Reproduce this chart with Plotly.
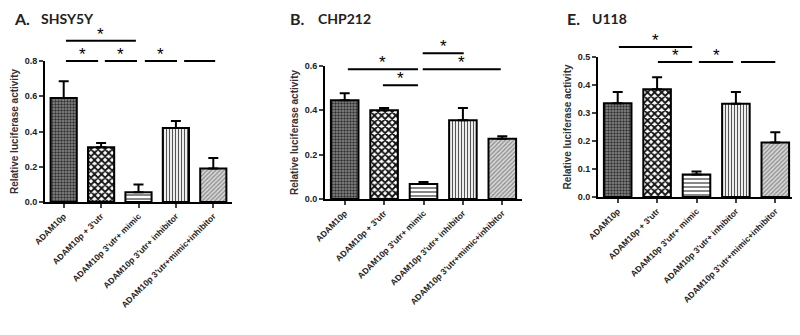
import plotly.graph_objects as go

categories = ["ADAM10p", "ADAM10p + 3'utr", "ADAM10p 3'utr+ mimic",
              "ADAM10p 3'utr+ inhibitor", "ADAM10p 3'utr+mimic+inhibitor"]

shsy5y_mean = [0.59, 0.31, 0.055, 0.42, 0.19]
shsy5y_err = [0.095, 0.025, 0.045, 0.04, 0.06]
chp212_mean = [0.446, 0.40, 0.068, 0.355, 0.272]
chp212_err = [0.031, 0.011, 0.009, 0.055, 0.011]
u118_mean = [0.335, 0.385, 0.08, 0.333, 0.195]
u118_err = [0.04, 0.043, 0.011, 0.042, 0.036]

# significance brackets: (x_start, x_end, y, star?) in category / value units
shsy5y_sig = [(0.06, 1.93, 0.915, True), (0.06, 0.92, 0.80, True), (1.1, 1.96, 0.80, True),
              (2.17, 3.03, 0.80, True), (3.22, 4.05, 0.80, False)]
chp212_sig = [(0.08, 1.86, 0.585, True), (0.97, 1.86, 0.513, True),
              (1.98, 3.02, 0.657, True), (1.98, 3.96, 0.585, True)]
u118_sig = [(0.03, 1.89, 0.536, True), (1.02, 1.89, 0.482, True),
            (2.06, 2.93, 0.482, True), (3.13, 4.0, 0.482, False)]

panels = [
    dict(title=("A.", "SHSY5Y"), mean=shsy5y_mean, err=shsy5y_err, sig=shsy5y_sig,
         ymax=0.8, dtick=0.2, xdom=(45, 232), ydom=(61, 202), tpos=(12, 39)),
    dict(title=("B.", "CHP212"), mean=chp212_mean, err=chp212_err, sig=chp212_sig,
         ymax=0.6, dtick=0.2, xdom=(325, 522), ydom=(66, 199), tpos=(288, 316)),
    dict(title=("E.", "U118"), mean=u118_mean, err=u118_err, sig=u118_sig,
         ymax=0.5, dtick=0.1, xdom=(598, 795), ydom=(57, 197), tpos=(565, 590)),
]

W, H = 800, 335
OFF = 8  # page body margin
FONT = "Liberation Sans, Arial, sans-serif"


def px2x(px):
    return (px - OFF) / W


def py2y(py):
    return 1 - (py - OFF) / H


pattern = dict(
    shape=[".", "x", "-", "|", "/"],
    fgcolor=["#333333", "#111111", "#555555", "#555555", "#8a8a8a"],
    bgcolor=["#8c8c8c", "#ffffff", "#ffffff", "#ffffff", "#d8d8d8"],
    size=[3, 5, 4, 3, 3],
    solidity=[0.5, 0.6, 0.35, 0.4, 0.4],
    fillmode="replace",
)

fig = go.Figure()
annotations = []
shapes = []
for i, p in enumerate(panels):
    n = i + 1
    xa = "x" if n == 1 else f"x{n}"
    ya = "y" if n == 1 else f"y{n}"
    fig.add_trace(go.Bar(
        x=categories, y=p["mean"], xaxis=xa, yaxis=ya, width=0.7,
        marker=dict(color="white", line=dict(color="black", width=2), pattern=pattern),
        error_y=dict(type="data", array=p["err"], arrayminus=[0] * 5, symmetric=False,
                     color="black", thickness=2, width=5),
        showlegend=False,
    ))
    xd = [px2x(p["xdom"][0]), px2x(p["xdom"][1])]
    yd = [py2y(p["ydom"][1]), py2y(p["ydom"][0])]
    fig.update_layout(**{
        ("xaxis" if n == 1 else f"xaxis{n}"): dict(
            domain=xd, anchor=ya, range=[-0.5, 4.5], tickangle=-45, automargin=False,
            showline=True, linecolor="black", linewidth=2, ticks="outside",
            ticklen=4, tickwidth=1.5, tickcolor="#444",
            tickfont=dict(family=FONT, size=8.5, color="#222", weight="bold"),
            showgrid=False, zeroline=False),
        ("yaxis" if n == 1 else f"yaxis{n}"): dict(
            domain=yd, anchor=xa, range=[0, p["ymax"]], dtick=p["dtick"], tickformat=".1f",
            automargin=False,
            showline=True, linecolor="black", linewidth=2, ticks="outside",
            ticklen=4, tickwidth=1.5, tickcolor="#444",
            tickfont=dict(family=FONT, size=9, color="#222", weight="bold"),
            title=dict(text="Relative luciferase activity", standoff=4,
                       font=dict(family=FONT, size=10, color="#333", weight="bold")),
            showgrid=False, zeroline=False),
    })
    # titles
    annotations.append(dict(xref="paper", yref="paper", x=px2x(p["tpos"][0]), y=py2y(18.5),
                            xanchor="left", yanchor="middle", showarrow=False, text="<b>" + p["title"][0] + "</b>",
                            font=dict(family="Lato, Open Sans, sans-serif", size=16, color="#222")))
    annotations.append(dict(xref="paper", yref="paper", x=px2x(p["tpos"][1]), y=py2y(18.5),
                            xanchor="left", yanchor="middle", showarrow=False, text="<b>" + p["title"][1] + "</b>",
                            font=dict(family="Lato, Open Sans, sans-serif", size=14, color="#222")))
    for (x0, x1, yv, star) in p["sig"]:
        shapes.append(dict(type="line", xref=f"{xa} domain", yref=f"{ya} domain",
                           x0=(x0 + 0.5) / 5, x1=(x1 + 0.5) / 5,
                           y0=yv / p["ymax"], y1=yv / p["ymax"],
                           line=dict(color="black", width=2)))
        if star:
            annotations.append(dict(xref=f"{xa} domain", yref=f"{ya} domain",
                                    x=((x0 + x1) / 2 + 0.5) / 5, y=yv / p["ymax"],
                                    yshift=-5, xanchor="center", yanchor="bottom",
                                    showarrow=False, text="*",
                                    font=dict(family=FONT, size=17, color="black")))

fig.update_layout(width=W, height=H, margin=dict(l=0, r=0, t=0, b=0),
                  plot_bgcolor="white", paper_bgcolor="white",
                  annotations=annotations, shapes=shapes, bargap=0.3)
fig.write_html("out.html")
